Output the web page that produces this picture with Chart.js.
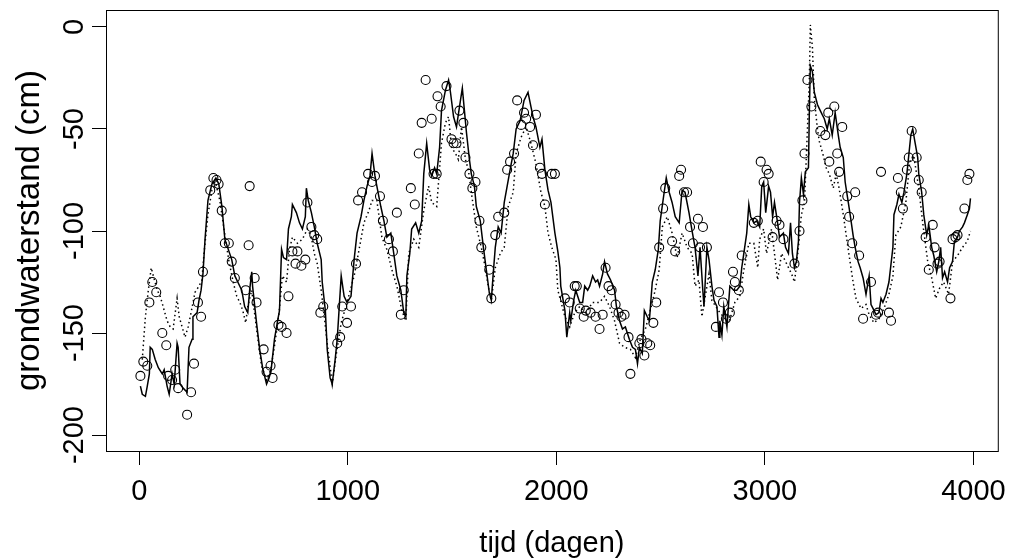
<!DOCTYPE html>
<html lang="nl">
  <head>
    <meta charset="UTF-8" />
    <title>Grondwaterstand</title>
    <script src="https://cdn.jsdelivr.net/npm/chart.js"></script>
    <style>
      html, body { margin: 0; padding: 0; background: #fff; }
      #wrap { width: 1016px; height: 558px; }
    </style>
  </head>
  <body>
    <div id="wrap"><canvas id="gwChart" width="1016" height="558"></canvas></div>
    <script>
      // [tijd (dagen), grondwaterstand (cm)]
      const simulated = [
        [5,-176],[14,-180],[29,-181],[38,-176],[48,-170],[52,-157],[62,-158],[76,-163],[91,-167],[110,-170],
        [119,-168],[133,-176],[143,-180],[157,-170],[167,-175],[181,-155],[186,-157],[195,-175],[210,-177],[229,-179],
        [238,-157],[253,-153],[257,-142],[277,-140],[286,-134],[296,-129],[305,-121],[315,-104],[329,-85],[348,-77],
        [367,-74],[381,-77],[396,-88],[410,-104],[443,-114],[458,-122],[472,-125],[491,-129],[505,-137],[520,-140],
        [529,-129],[539,-120],[543,-127],[562,-145],[577,-158],[591,-167],[610,-175],[622,-172],[632,-168],[648,-153],
        [663,-144],[672,-139],[682,-109],[691,-113],[706,-114],[715,-99],[729,-93],[734,-87],[753,-91],[768,-96],
        [782,-99],[796,-93],[801,-79],[810,-85],[825,-91],[839,-98],[853,-106],[872,-114],[877,-125],[892,-139],
        [901,-158],[915,-172],[925,-175],[939,-163],[949,-153],[968,-122],[982,-132],[996,-135],[1015,-132],[1030,-114],
        [1044,-101],[1063,-93],[1077,-85],[1092,-78],[1106,-73],[1116,-62],[1130,-73],[1139,-78],[1158,-88],[1173,-95],
        [1187,-103],[1206,-101],[1220,-111],[1235,-122],[1254,-129],[1268,-140],[1278,-142],[1283,-122],[1297,-111],[1306,-99],
        [1325,-96],[1340,-101],[1354,-95],[1364,-72],[1378,-57],[1392,-70],[1402,-73],[1416,-69],[1426,-72],[1440,-59],
        [1449,-41],[1468,-31],[1483,-26],[1492,-32],[1507,-44],[1521,-49],[1540,-36],[1549,-30],[1559,-41],[1569,-52],
        [1583,-65],[1592,-72],[1607,-78],[1616,-88],[1635,-95],[1650,-108],[1664,-119],[1678,-130],[1688,-134],[1697,-121],
        [1707,-108],[1721,-98],[1735,-101],[1750,-86],[1764,-78],[1778,-70],[1793,-62],[1807,-50],[1826,-46],[1845,-36],
        [1864,-32],[1878,-39],[1888,-44],[1902,-49],[1921,-59],[1931,-55],[1945,-70],[1960,-80],[1974,-86],[1993,-101],
        [2007,-110],[2017,-118],[2021,-127],[2041,-139],[2050,-152],[2064,-140],[2069,-144],[2083,-134],[2093,-129],[2112,-135],
        [2126,-135],[2136,-127],[2150,-129],[2160,-127],[2174,-122],[2188,-125],[2198,-124],[2207,-127],[2222,-121],[2231,-115],
        [2245,-121],[2260,-124],[2279,-129],[2288,-137],[2303,-144],[2317,-148],[2331,-147],[2350,-153],[2365,-157],[2379,-158],
        [2389,-165],[2398,-157],[2412,-160],[2422,-139],[2436,-142],[2446,-144],[2460,-125],[2474,-119],[2489,-109],[2498,-95],
        [2517,-81],[2527,-74],[2541,-81],[2555,-86],[2570,-93],[2589,-96],[2603,-80],[2617,-81],[2636,-91],[2651,-100],
        [2665,-108],[2679,-122],[2689,-108],[2703,-130],[2708,-137],[2722,-108],[2732,-114],[2746,-127],[2756,-134],[2770,-137],
        [2780,-152],[2784,-144],[2794,-151],[2803,-137],[2818,-147],[2832,-127],[2851,-129],[2865,-129],[2880,-127],[2889,-118],
        [2899,-111],[2913,-101],[2923,-87],[2932,-93],[2947,-96],[2961,-95],[2975,-98],[2985,-78],[2994,-76],[3004,-91],
        [3018,-78],[3027,-81],[3037,-93],[3046,-86],[3061,-96],[3070,-103],[3089,-101],[3099,-108],[3113,-111],[3123,-96],
        [3132,-111],[3142,-118],[3151,-115],[3161,-105],[3166,-86],[3175,-74],[3185,-82],[3194,-71],[3209,-69],[3213,-43],
        [3218,-19],[3228,-22],[3237,-32],[3252,-38],[3261,-40],[3275,-43],[3285,-45],[3299,-50],[3309,-45],[3323,-53],
        [3337,-42],[3352,-53],[3361,-59],[3376,-64],[3385,-76],[3400,-86],[3409,-92],[3423,-102],[3433,-108],[3447,-115],
        [3457,-118],[3471,-123],[3485,-131],[3500,-122],[3509,-136],[3519,-138],[3533,-141],[3547,-140],[3557,-133],[3566,-135],
        [3581,-131],[3595,-125],[3614,-108],[3619,-92],[3633,-87],[3643,-82],[3657,-86],[3667,-81],[3681,-72],[3690,-63],
        [3700,-53],[3709,-50],[3719,-56],[3733,-64],[3738,-72],[3752,-81],[3762,-92],[3776,-102],[3786,-97],[3800,-108],
        [3810,-112],[3824,-120],[3834,-115],[3843,-108],[3852,-123],[3862,-120],[3876,-125],[3886,-118],[3900,-115],[3909,-105],
        [3924,-103],[3933,-100],[3948,-98],[3957,-96],[3971,-92],[3981,-89],[3986,-84]
      ];

      const simulated2 = [
        [14,-163],[29,-142],[43,-129],[57,-118],[67,-122],[86,-129],[100,-132],[114,-137],[133,-144],[148,-147],
        [162,-148],[181,-133],[191,-142],[205,-147],[219,-152],[234,-147],[248,-140],[267,-130],[286,-127],[300,-124],
        [310,-111],[329,-92],[348,-80],[367,-77],[386,-85],[410,-102],[430,-115],[450,-125],[467,-132],[482,-135],
        [496,-139],[510,-145],[520,-137],[539,-129],[562,-148],[586,-166],[610,-173],[630,-168],[650,-155],[670,-140],
        [686,-122],[706,-125],[720,-109],[734,-103],[758,-106],[782,-104],[806,-99],[825,-103],[839,-111],[853,-116],
        [872,-129],[887,-142],[901,-155],[925,-175],[945,-160],[968,-145],[996,-135],[1030,-122],[1054,-109],[1077,-96],
        [1101,-90],[1116,-85],[1139,-85],[1163,-103],[1187,-109],[1211,-119],[1235,-127],[1259,-139],[1278,-144],[1292,-111],
        [1316,-104],[1340,-108],[1364,-90],[1387,-78],[1402,-86],[1426,-88],[1449,-57],[1468,-47],[1483,-44],[1497,-59],
        [1516,-62],[1530,-65],[1545,-49],[1564,-65],[1578,-70],[1592,-81],[1616,-98],[1640,-108],[1659,-118],[1678,-130],
        [1688,-134],[1707,-118],[1731,-111],[1750,-108],[1769,-88],[1793,-81],[1807,-62],[1831,-54],[1855,-49],[1878,-57],
        [1902,-67],[1926,-81],[1945,-88],[1960,-101],[1978,-108],[1998,-114],[2007,-129],[2041,-142],[2064,-147],[2088,-140],
        [2112,-137],[2141,-140],[2174,-135],[2207,-135],[2231,-132],[2255,-137],[2279,-144],[2303,-155],[2327,-157],[2355,-158],
        [2379,-162],[2403,-153],[2427,-148],[2450,-139],[2474,-129],[2493,-119],[2508,-98],[2532,-93],[2555,-101],[2579,-113],
        [2603,-101],[2627,-108],[2651,-111],[2665,-127],[2684,-124],[2698,-142],[2732,-121],[2746,-134],[2784,-140],[2827,-145],
        [2856,-135],[2880,-132],[2899,-119],[2923,-106],[2947,-106],[2966,-118],[2975,-104],[2994,-99],[3008,-111],[3032,-99],
        [3046,-111],[3061,-124],[3080,-111],[3104,-116],[3128,-121],[3142,-125],[3161,-108],[3175,-92],[3190,-86],[3199,-63],
        [3213,-27],[3218,1],[3228,-10],[3237,-35],[3252,-50],[3261,-56],[3280,-63],[3294,-69],[3309,-72],[3328,-79],
        [3342,-72],[3356,-79],[3376,-92],[3390,-102],[3404,-112],[3423,-125],[3437,-133],[3461,-138],[3485,-136],[3500,-141],
        [3523,-145],[3547,-143],[3571,-138],[3595,-131],[3614,-122],[3628,-102],[3652,-98],[3676,-86],[3695,-66],[3714,-63],
        [3738,-79],[3757,-96],[3781,-115],[3800,-123],[3819,-133],[3838,-128],[3857,-125],[3881,-131],[3900,-115],[3924,-112],
        [3948,-108],[3971,-105],[3986,-100]
      ];

      const observed = [
        [5,-171],[19,-164],[38,-166],[48,-135],[62,-125],[81,-130],[110,-150],[129,-156],[138,-171],[157,-173],
        [172,-168],[186,-177],[229,-190],[248,-179],[262,-165],[281,-135],[296,-142],[305,-120],[340,-80],[355,-74],
        [370,-75],[380,-77],[395,-90],[410,-106],[429,-106],[443,-115],[458,-123],[510,-129],[524,-107],[529,-78],
        [553,-123],[562,-135],[596,-158],[610,-169],[629,-166],[639,-172],[667,-146],[682,-147],[706,-150],[715,-132],
        [734,-110],[749,-116],[758,-110],[777,-117],[796,-114],[806,-86],[825,-98],[839,-102],[853,-104],[868,-140],
        [882,-137],[949,-155],[963,-152],[973,-137],[996,-145],[1015,-137],[1039,-116],[1049,-85],[1068,-81],[1097,-72],
        [1116,-76],[1130,-73],[1154,-83],[1168,-95],[1197,-104],[1216,-110],[1235,-91],[1254,-141],[1268,-129],[1302,-79],
        [1321,-87],[1340,-62],[1354,-47],[1373,-26],[1402,-45],[1411,-72],[1426,-72],[1430,-34],[1445,-39],[1473,-29],
        [1497,-55],[1507,-57],[1521,-57],[1535,-41],[1554,-47],[1564,-64],[1583,-72],[1597,-79],[1612,-76],[1631,-95],
        [1640,-108],[1678,-119],[1688,-133],[1707,-102],[1721,-93],[1750,-91],[1764,-70],[1778,-66],[1797,-62],[1812,-36],
        [1831,-48],[1845,-42],[1855,-45],[1874,-49],[1888,-58],[1902,-43],[1921,-69],[1931,-72],[1945,-87],[1978,-72],
        [1993,-72],[2041,-133],[2064,-135],[2088,-127],[2098,-127],[2112,-138],[2131,-142],[2141,-139],[2164,-140],[2188,-142],
        [2207,-148],[2222,-141],[2236,-118],[2250,-127],[2265,-129],[2284,-136],[2298,-140],[2312,-142],[2327,-141],[2346,-152],
        [2355,-170],[2398,-155],[2408,-153],[2422,-161],[2436,-155],[2450,-156],[2465,-145],[2479,-135],[2493,-108],[2512,-89],
        [2522,-79],[2555,-105],[2570,-110],[2589,-73],[2598,-70],[2612,-81],[2627,-81],[2641,-98],[2655,-106],[2679,-94],
        [2689,-108],[2703,-98],[2722,-108],[2765,-147],[2780,-130],[2799,-135],[2813,-143],[2832,-140],[2847,-120],[2856,-125],
        [2875,-129],[2889,-112],[2947,-96],[2966,-95],[2980,-66],[2994,-76],[3008,-70],[3018,-72],[3037,-103],[3056,-95],
        [3070,-97],[3089,-104],[3142,-116],[3166,-100],[3180,-85],[3190,-62],[3204,-26],[3223,-39],[3266,-51],[3290,-53],
        [3304,-42],[3309,-66],[3333,-39],[3347,-62],[3356,-71],[3371,-49],[3395,-83],[3404,-93],[3419,-106],[3433,-81],
        [3452,-112],[3471,-143],[3509,-125],[3533,-141],[3543,-140],[3557,-71],[3595,-140],[3605,-144],[3638,-74],[3652,-81],
        [3662,-89],[3681,-70],[3690,-64],[3704,-51],[3728,-64],[3738,-75],[3752,-81],[3771,-103],[3786,-119],[3805,-97],
        [3814,-108],[3828,-116],[3838,-115],[3890,-133],[3900,-104],[3914,-103],[3924,-102],[3957,-89],[3971,-75],[3981,-72]
      ];

      const xTicks = [0, 1000, 2000, 3000, 4000];
      const yTicks = [0, -50, -100, -150, -200];

      const fontFamily = '"Liberation Sans", Arial, sans-serif';
      const toPoints = (rows) => rows.map((r) => ({ x: r[0], y: r[1] }));

      // R-style frame round the plot region, and y tick labels written upright (rotated)
      const rFrame = {
        id: "rFrame",
        afterDraw(chart) {
          const { ctx, chartArea: a } = chart;
          const yScale = chart.scales.y;
          ctx.save();
          ctx.strokeStyle = "#000";
          ctx.lineWidth = 1;
          ctx.strokeRect(a.left + 0.5, a.top + 0.5, a.right - a.left, a.bottom - a.top);
          ctx.fillStyle = "#000";
          ctx.font = "29px " + fontFamily;
          ctx.textAlign = "center";
          ctx.textBaseline = "middle";
          yTicks.forEach((v) => {
            ctx.save();
            ctx.translate(a.left - 31, yScale.getPixelForValue(v));
            ctx.rotate(-Math.PI / 2);
            ctx.fillText(String(v), 0, 0);
            ctx.restore();
          });
          ctx.restore();
        },
      };

      const ctx = document.getElementById("gwChart").getContext("2d");
      new Chart(ctx, {
        type: "scatter",
        data: {
          datasets: [
            {
              label: "gemeten",
              data: toPoints(observed),
              showLine: false,
              pointStyle: "circle",
              pointRadius: 4.5,
              pointBorderWidth: 1.1,
              pointBorderColor: "#000",
              pointBackgroundColor: "rgba(0,0,0,0)",
              order: 0,
            },
            {
              label: "model",
              data: toPoints(simulated),
              showLine: true,
              borderColor: "#000",
              borderWidth: 1.5,
              pointRadius: 0,
              tension: 0,
              order: 1,
            },
            {
              label: "model 2",
              data: toPoints(simulated2),
              showLine: true,
              borderColor: "#000",
              borderWidth: 1.5,
              borderDash: [1.5, 3],
              pointRadius: 0,
              tension: 0,
              order: 2,
            },
          ],
        },
        options: {
          responsive: false,
          animation: false,
          devicePixelRatio: 1,
          layout: { padding: { top: 10, right: 13, left: 0, bottom: 0 } },
          plugins: { legend: { display: false }, tooltip: { enabled: false } },
          scales: {
            x: {
              type: "linear",
              min: -160,
              max: 4117,
              afterBuildTicks: (scale) => {
                scale.ticks = xTicks.map((v) => ({ value: v }));
              },
              afterFit: (scale) => {
                scale.height = 107;
              },
              grid: {
                drawOnChartArea: false,
                drawTicks: true,
                tickLength: 14,
                tickColor: "#000",
                tickWidth: 1,
              },
              border: { display: false },
              ticks: {
                color: "#000",
                font: { family: fontFamily, size: 29 },
                padding: 10,
                maxRotation: 0,
                callback: (v) => String(v),
              },
              title: {
                display: true,
                text: "tijd (dagen)",
                color: "#000",
                font: { family: fontFamily, size: 29, lineHeight: 1 },
                padding: { top: 0, bottom: 0 },
              },
            },
            y: {
              type: "linear",
              min: -207.8,
              max: 8.3,
              afterBuildTicks: (scale) => {
                scale.ticks = yTicks.map((v) => ({ value: v }));
              },
              afterFit: (scale) => {
                scale.width = 106;
              },
              grid: {
                drawOnChartArea: false,
                drawTicks: true,
                tickLength: 14,
                tickColor: "#000",
                tickWidth: 1,
              },
              border: { display: false },
              ticks: { display: false },
              title: {
                display: true,
                text: "grondwaterstand (cm)",
                color: "#000",
                font: { family: fontFamily, size: 33, lineHeight: 1 },
                padding: { top: 13, bottom: 0 },
              },
            },
          },
        },
        plugins: [rFrame],
      });
    </script>
  </body>
</html>
